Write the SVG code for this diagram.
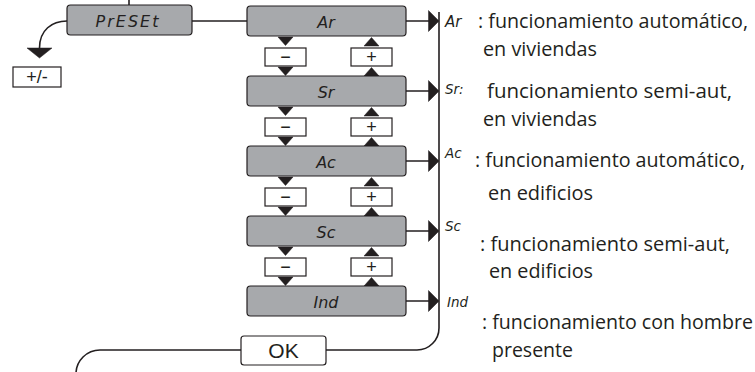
<svg xmlns="http://www.w3.org/2000/svg" width="755" height="372" viewBox="0 0 755 372">
<style>
.box{fill:#a7a9ac;stroke:#231f20;stroke-width:1.2}
.wb{fill:#fff;stroke:#231f20;stroke-width:1.2}
.ln{fill:none;stroke:#231f20;stroke-width:1.6}
.tri{fill:#231f20;stroke:#231f20;stroke-width:0.5}
.lcd{font-family:"DejaVu Sans",sans-serif;font-style:italic;fill:#231f20;text-anchor:middle;font-size:16px}
.pm{font-family:"Liberation Sans",sans-serif;font-size:18px;fill:#231f20;text-anchor:middle}
.t{font-family:"Open Sans","Noto Sans",sans-serif;font-size:19.5px;fill:#231f20}
.lab{font-family:"DejaVu Sans",sans-serif;font-style:italic;font-size:13.5px;fill:#231f20}
</style>
<g id="connectors">
<path class="ln" d="M129,0 V5"/>
<path class="ln" d="M192,21 H247"/>
<path class="ln" d="M67,21 C52,21 39.5,30 39.5,48"/>
<path class="tri" d="M27,48 H52 L39.5,58 Z"/>
<path class="ln" d="M406,21 H430 M406,91 H430 M406,161 H430 M406,231 H430 M406,301 H430"/>
<path class="tri" d="M428.5,10.5 L439,21 L428.5,31.5 Z M428.5,80.5 L439,91 L428.5,101.5 Z M428.5,150.5 L439,161 L428.5,171.5 Z M428.5,220.5 L439,231 L428.5,241.5 Z M428.5,290.5 L439,301 L428.5,311.5 Z"/>
<path class="ln" d="M439,12 V328 A22,22 0 0 1 417,350 H326"/>
<path class="ln" d="M241,350 H100 A24,24 0 0 0 76,374"/>
<path class="tri" d="M278,37 h15 l-7.5,8.5 Z M278,67 h15 l-7.5,8.5 Z M364,46 h15 l-7.5,-8.5 Z M364,76 h15 l-7.5,-8.5 Z"/>
<path class="tri" d="M278,107 h15 l-7.5,8.5 Z M278,137 h15 l-7.5,8.5 Z M364,116 h15 l-7.5,-8.5 Z M364,146 h15 l-7.5,-8.5 Z"/>
<path class="tri" d="M278,177 h15 l-7.5,8.5 Z M278,207 h15 l-7.5,8.5 Z M364,186 h15 l-7.5,-8.5 Z M364,216 h15 l-7.5,-8.5 Z"/>
<path class="tri" d="M278,247 h15 l-7.5,8.5 Z M278,277 h15 l-7.5,8.5 Z M364,256 h15 l-7.5,-8.5 Z M364,286 h15 l-7.5,-8.5 Z"/>
</g>
<g id="preset"><rect class="box" x="67" y="5" width="125" height="30" rx="3.5"/><text class="lcd" x="128" y="26.5" letter-spacing="2">PrESEt</text></g>
<g id="pmkey"><rect class="wb" x="13" y="67" width="48" height="20"/><text class="pm" x="37" y="83">+/-</text></g>
<g id="ar-node"><rect class="box" x="247" y="6" width="159" height="30" rx="3.5"/><text class="lcd" x="326" y="27.5">Ar</text></g>
<g id="sr-node"><rect class="box" x="247" y="76" width="159" height="30" rx="3.5"/><text class="lcd" x="326" y="97.5">Sr</text></g>
<g id="ac-node"><rect class="box" x="247" y="146" width="159" height="30" rx="3.5"/><text class="lcd" x="326" y="167.5">Ac</text></g>
<g id="sc-node"><rect class="box" x="247" y="216" width="159" height="30" rx="3.5"/><text class="lcd" x="326" y="237.5">Sc</text></g>
<g id="ind-node"><rect class="box" x="247" y="286" width="159" height="30" rx="3.5"/><text class="lcd" x="326" y="307.5">Ind</text></g>
<g id="keys">
<rect class="wb" x="265" y="48" width="41" height="18"/><text class="pm" x="285.5" y="63">−</text>
<rect class="wb" x="351" y="48" width="41" height="18"/><text class="pm" x="371.5" y="63">+</text>
<rect class="wb" x="265" y="118" width="41" height="18"/><text class="pm" x="285.5" y="133">−</text>
<rect class="wb" x="351" y="118" width="41" height="18"/><text class="pm" x="371.5" y="133">+</text>
<rect class="wb" x="265" y="188" width="41" height="18"/><text class="pm" x="285.5" y="203">−</text>
<rect class="wb" x="351" y="188" width="41" height="18"/><text class="pm" x="371.5" y="203">+</text>
<rect class="wb" x="265" y="258" width="41" height="18"/><text class="pm" x="285.5" y="273">−</text>
<rect class="wb" x="351" y="258" width="41" height="18"/><text class="pm" x="371.5" y="273">+</text>
</g>
<g id="ok"><rect class="wb" x="241" y="336" width="85" height="29" rx="3"/><text class="pm" x="283.5" y="358" style="font-size:21px">OK</text></g>
<g id="legend">
<text class="lab" x="445" y="27" style="font-size:15px">Ar</text>
<text class="t" x="478" y="28" textLength="270" lengthAdjust="spacingAndGlyphs">: funcionamiento automático,</text>
<text class="t" x="483" y="56" textLength="114" lengthAdjust="spacingAndGlyphs">en viviendas</text>
<text class="lab" x="445" y="94">Sr:</text>
<text class="t" x="487" y="98" textLength="245" lengthAdjust="spacingAndGlyphs">funcionamiento semi-aut,</text>
<text class="t" x="483" y="126" textLength="114" lengthAdjust="spacingAndGlyphs">en viviendas</text>
<text class="lab" x="445" y="158">Ac</text>
<text class="t" x="475" y="167" textLength="270" lengthAdjust="spacingAndGlyphs">: funcionamiento automático,</text>
<text class="t" x="488" y="200" textLength="105" lengthAdjust="spacingAndGlyphs">en edificios</text>
<text class="lab" x="445" y="231">Sc</text>
<text class="t" x="480" y="251" textLength="250" lengthAdjust="spacingAndGlyphs">: funcionamiento semi-aut,</text>
<text class="t" x="489" y="278" textLength="104" lengthAdjust="spacingAndGlyphs">en edificios</text>
<text class="lab" x="447" y="307">Ind</text>
<text class="t" x="482" y="329" textLength="271" lengthAdjust="spacingAndGlyphs">: funcionamiento con hombre</text>
<text class="t" x="492" y="357" textLength="81" lengthAdjust="spacingAndGlyphs">presente</text>
</g>
</svg>
